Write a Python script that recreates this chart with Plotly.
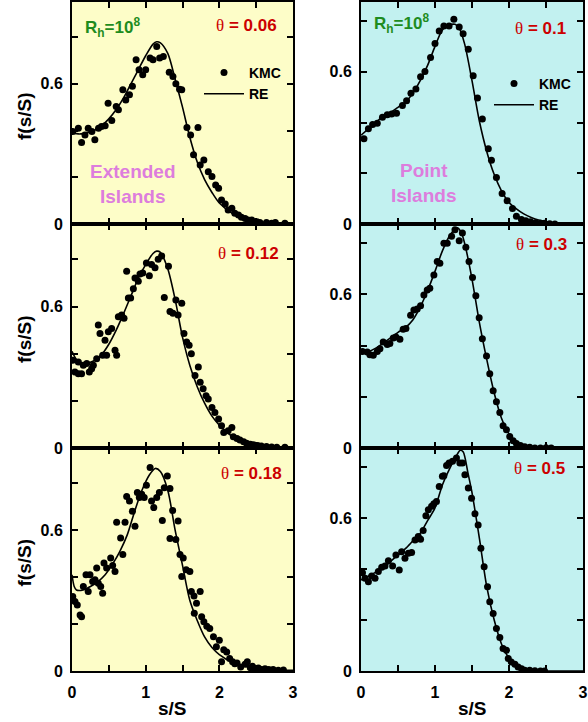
import plotly.graph_objects as go

W, H = 588, 722

# ---------------- data ----------------
# Extended islands, theta = 0.06
kmc_x_006 = [0.01,0.086,0.13,0.176,0.22,0.27,0.31,0.36,0.40,0.45,0.49,0.54,0.60,0.63,0.69,0.73,0.78,0.82,0.87,0.91,0.96,1.00,1.06,1.10,1.15,1.19,1.24,1.32,1.37,1.41,1.46,1.49,1.56,1.61,1.65,1.71,1.74,1.79,1.85,1.90,1.95,1.99,2.03,2.08,2.12,2.17,2.21,2.26,2.30,2.35,2.39,2.44,2.51,2.55,2.64,2.71,2.76,2.89]
kmc_y_006 = [0.396,0.41,0.349,0.381,0.41,0.396,0.36,0.41,0.417,0.42,0.517,0.443,0.503,0.489,0.574,0.531,0.553,0.589,0.703,0.66,0.639,0.66,0.71,0.703,0.76,0.71,0.717,0.649,0.631,0.60,0.577,0.574,0.413,0.381,0.296,0.413,0.253,0.274,0.224,0.203,0.167,0.153,0.103,0.086,0.06,0.067,0.046,0.039,0.029,0.024,0.017,0.017,0.01,0.006,0.006,0.003,0.006,0.003]
re_x_006 = [0,0.1,0.2,0.3,0.4,0.5,0.6,0.7,0.8,0.9,1.0,1.1,1.15,1.2,1.3,1.4,1.5,1.6,1.7,1.8,1.9,2.0,2.2,2.4,2.6,2.8,3.0]
re_y_006 = [0.39,0.385,0.39,0.40,0.42,0.45,0.49,0.54,0.60,0.66,0.72,0.77,0.78,0.775,0.73,0.62,0.50,0.37,0.265,0.19,0.135,0.09,0.04,0.017,0.007,0.003,0.001]

# Extended islands, theta = 0.12
kmc_x_012 = [0.01,0.04,0.086,0.086,0.13,0.154,0.20,0.235,0.267,0.29,0.335,0.357,0.38,0.416,0.448,0.47,0.493,0.538,0.584,0.606,0.629,0.674,0.706,0.742,0.765,0.796,0.833,0.855,0.90,0.923,0.96,1.01,1.05,1.08,1.127,1.17,1.217,1.253,1.31,1.33,1.37,1.41,1.44,1.49,1.52,1.556,1.59,1.62,1.67,1.715,1.74,1.78,1.82,1.85,1.90,1.94,1.99,2.03,2.06,2.12,2.17,2.19,2.24,2.28,2.33,2.37,2.42,2.46,2.52,2.57,2.64,2.71,2.78,2.89]
kmc_y_012 = [0.372,0.322,0.365,0.315,0.315,0.351,0.358,0.322,0.336,0.351,0.379,0.522,0.486,0.393,0.457,0.393,0.493,0.507,0.415,0.393,0.557,0.564,0.55,0.75,0.636,0.636,0.675,0.721,0.707,0.738,0.742,0.785,0.731,0.778,0.764,0.80,0.814,0.638,0.771,0.579,0.571,0.628,0.564,0.614,0.486,0.45,0.436,0.40,0.308,0.343,0.279,0.251,0.222,0.208,0.172,0.151,0.123,0.094,0.066,0.073,0.087,0.048,0.04,0.034,0.026,0.02,0.016,0.014,0.011,0.009,0.006,0.004,0.003,0.003]
re_x_012 = [0,0.05,0.1,0.2,0.3,0.4,0.5,0.6,0.7,0.8,0.9,1.0,1.1,1.15,1.2,1.3,1.4,1.5,1.6,1.7,1.8,1.9,2.0,2.2,2.4,2.6,2.8,3.0]
re_y_012 = [0.41,0.38,0.365,0.36,0.37,0.395,0.44,0.50,0.57,0.645,0.72,0.778,0.825,0.835,0.83,0.76,0.63,0.47,0.35,0.26,0.19,0.135,0.097,0.044,0.02,0.01,0.004,0.002]

# Extended islands, theta = 0.18
kmc_x_018 = [0.01,0.04,0.072,0.11,0.13,0.154,0.19,0.22,0.244,0.28,0.312,0.335,0.357,0.39,0.416,0.434,0.47,0.525,0.552,0.584,0.606,0.66,0.69,0.72,0.742,0.78,0.82,0.855,0.887,0.914,0.946,0.98,1.01,1.06,1.08,1.11,1.15,1.186,1.226,1.253,1.294,1.33,1.33,1.366,1.41,1.44,1.466,1.49,1.51,1.55,1.60,1.62,1.656,1.66,1.69,1.74,1.76,1.79,1.83,1.87,1.92,1.96,2.0,2.03,2.06,2.10,2.14,2.18,2.21,2.24,2.29,2.35,2.38,2.42,2.45,2.48,2.53,2.57,2.62,2.67,2.73,2.80,2.87]
kmc_y_018 = [0.317,0.296,0.281,0.239,0.231,0.36,0.41,0.339,0.41,0.381,0.389,0.439,0.374,0.36,0.331,0.46,0.439,0.481,0.449,0.424,0.634,0.567,0.496,0.634,0.743,0.724,0.681,0.617,0.76,0.739,0.753,0.739,0.791,0.867,0.724,0.696,0.739,0.76,0.641,0.781,0.831,0.777,0.564,0.684,0.56,0.639,0.496,0.403,0.481,0.431,0.424,0.339,0.32,0.246,0.289,0.339,0.231,0.21,0.191,0.181,0.146,0.103,0.131,0.039,0.091,0.081,0.053,0.039,0.031,0.034,0.017,0.029,0.039,0.014,0.02,0.01,0.013,0.006,0.01,0.006,0.006,0.003,0.004]
re_x_018 = [0,0.03,0.06,0.15,0.25,0.35,0.45,0.55,0.65,0.75,0.85,0.95,1.05,1.13,1.2,1.3,1.4,1.5,1.6,1.7,1.8,1.9,2.0,2.2,2.4,2.6,2.8,3.0]
re_y_018 = [0.41,0.36,0.345,0.345,0.36,0.38,0.41,0.455,0.51,0.58,0.68,0.77,0.835,0.863,0.85,0.77,0.60,0.45,0.30,0.215,0.145,0.10,0.07,0.033,0.017,0.009,0.004,0.003]

# Point islands, theta = 0.1
kmc_x_01 = [0.04,0.1,0.157,0.22,0.29,0.355,0.414,0.48,0.56,0.616,0.675,0.742,0.805,0.864,0.94,1.0,1.057,1.12,1.19,1.255,1.327,1.38,1.45,1.516,1.574,1.64,1.72,1.763,1.83,1.907,1.975,2.047,2.1,2.168,2.227,2.29,2.36,2.425,2.48,2.55,2.62]
kmc_y_01 = [0.336,0.375,0.392,0.397,0.421,0.431,0.434,0.437,0.467,0.486,0.515,0.532,0.58,0.601,0.656,0.711,0.761,0.78,0.78,0.807,0.776,0.75,0.689,0.584,0.497,0.414,0.297,0.251,0.183,0.12,0.092,0.061,0.031,0.018,0.013,0.009,0.005,0.003,0.003,0.001,0.0]
re_x_01 = [0,0.1,0.2,0.3,0.4,0.5,0.6,0.7,0.8,0.9,1.0,1.1,1.2,1.27,1.33,1.4,1.5,1.6,1.7,1.8,1.9,2.0,2.1,2.2,2.3,2.4,2.6,2.8,3.0]
re_y_01 = [0.35,0.375,0.40,0.425,0.44,0.46,0.48,0.515,0.565,0.625,0.70,0.765,0.785,0.787,0.77,0.71,0.565,0.405,0.285,0.195,0.13,0.085,0.06,0.04,0.026,0.016,0.005,0.001,0.0]

# Point islands, theta = 0.3
kmc_x_03 = [0.02,0.085,0.12,0.166,0.22,0.256,0.30,0.355,0.39,0.436,0.472,0.526,0.57,0.607,0.67,0.715,0.76,0.805,0.85,0.895,0.93,0.985,1.03,1.066,1.12,1.165,1.224,1.27,1.327,1.37,1.417,1.46,1.507,1.552,1.597,1.64,1.696,1.74,1.786,1.83,1.876,1.92,1.966,2.01,2.056,2.1,2.155,2.213,2.28,2.35,2.425,2.5,2.57]
kmc_y_03 = [0.377,0.375,0.364,0.362,0.377,0.388,0.414,0.404,0.408,0.43,0.434,0.425,0.464,0.467,0.519,0.539,0.543,0.556,0.598,0.617,0.624,0.676,0.729,0.722,0.80,0.80,0.827,0.853,0.81,0.84,0.784,0.729,0.666,0.595,0.509,0.427,0.359,0.29,0.224,0.181,0.139,0.087,0.071,0.045,0.028,0.018,0.01,0.005,0.003,0.0,0.0,0.001,0.0]
re_x_03 = [0,0.1,0.2,0.3,0.4,0.5,0.6,0.7,0.8,0.9,1.0,1.1,1.2,1.3,1.35,1.4,1.5,1.6,1.7,1.8,1.9,2.0,2.1,2.2,2.4,2.6,3.0]
re_y_03 = [0.38,0.377,0.39,0.41,0.43,0.452,0.47,0.50,0.55,0.615,0.69,0.77,0.83,0.86,0.845,0.80,0.66,0.49,0.345,0.215,0.115,0.055,0.022,0.009,0.003,0.001,0.0]

# Point islands, theta = 0.5
kmc_x_05 = [0.02,0.054,0.1,0.144,0.19,0.234,0.28,0.324,0.37,0.427,0.472,0.517,0.549,0.594,0.64,0.684,0.73,0.774,0.805,0.84,0.877,0.91,0.954,0.985,1.02,1.057,1.1,1.12,1.156,1.19,1.237,1.29,1.336,1.372,1.404,1.45,1.494,1.54,1.583,1.62,1.664,1.71,1.74,1.786,1.83,1.876,1.92,1.966,1.99,2.03,2.08,2.123,2.17,2.213,2.28,2.35,2.425,2.48]
kmc_y_05 = [0.386,0.364,0.35,0.373,0.364,0.39,0.407,0.412,0.433,0.412,0.455,0.396,0.468,0.442,0.462,0.465,0.514,0.528,0.517,0.551,0.609,0.633,0.646,0.656,0.665,0.724,0.764,0.766,0.806,0.816,0.823,0.836,0.816,0.816,0.77,0.718,0.678,0.617,0.573,0.482,0.409,0.331,0.272,0.226,0.167,0.131,0.088,0.081,0.049,0.035,0.026,0.016,0.009,0.003,0.003,0.001,0.0,0.0]
re_x_05 = [0,0.1,0.2,0.3,0.4,0.5,0.6,0.7,0.8,0.9,1.0,1.1,1.2,1.3,1.34,1.38,1.45,1.5,1.6,1.7,1.8,1.9,2.0,2.1,2.2,2.4,2.6,3.0]
re_y_05 = [0.357,0.372,0.388,0.405,0.43,0.455,0.48,0.51,0.54,0.59,0.64,0.73,0.795,0.85,0.866,0.86,0.77,0.70,0.52,0.33,0.20,0.105,0.05,0.02,0.008,0.001,0.0,0.0]

theta_labels = ["0.06", "0.12", "0.18", "0.1", "0.3", "0.5"]
x_tickvals = [0, 0.5, 1, 1.5, 2, 2.5, 3]
x_ticktext = ["0", "", "1", "", "2", "", "3"]
y_tickvals = [0, 0.2, 0.4, 0.6, 0.8]
y_ticktext = ["0", "", "", "0.6", ""]

panels = [
    (kmc_x_006, kmc_y_006, re_x_006, re_y_006),
    (kmc_x_012, kmc_y_012, re_x_012, re_y_012),
    (kmc_x_018, kmc_y_018, re_x_018, re_y_018),
    (kmc_x_01, kmc_y_01, re_x_01, re_y_01),
    (kmc_x_03, kmc_y_03, re_x_03, re_y_03),
    (kmc_x_05, kmc_y_05, re_x_05, re_y_05),
]

# ---------------- layout geometry (pixels) ----------------
col_px = [(72, 293), (361, 583)]
row_px = [(2, 224), (224, 448), (448, 671)]
y_max = [0.95, 0.875]
bg = ["#fdfdc8", "#c2f1f0"]

FONT = "Liberation Sans, Arial, Helvetica, sans-serif"
fig = go.Figure()
layout = dict(template="none", width=W, height=H, margin=dict(l=0, r=0, t=0, b=0, pad=0),
              paper_bgcolor="white", plot_bgcolor="rgba(0,0,0,0)",
              showlegend=True, font=dict(family=FONT, color="black"))
shapes = []
annotations = []

for i, (kx, ky, rx, ry) in enumerate(panels):
    col, row = divmod(i, 3)
    n = i + 1
    xa = "x" if n == 1 else f"x{n}"
    ya = "y" if n == 1 else f"y{n}"
    legend = None
    if i == 0:
        legend = "legend"
    elif i == 3:
        legend = "legend2"
    show = legend is not None
    fig.add_trace(go.Scatter(x=kx, y=ky, mode="markers", name="KMC",
                             marker=dict(color="black", size=7),
                             xaxis=xa, yaxis=ya, showlegend=show,
                             legend=legend or "legend"))
    fig.add_trace(go.Scatter(x=rx, y=ry, mode="lines", name="RE",
                             line=dict(color="black", width=1.6, shape="spline", smoothing=0.8),
                             xaxis=xa, yaxis=ya, showlegend=show,
                             legend=legend or "legend"))
    x0, x1 = col_px[col]
    t, b = row_px[row]
    axis_common = dict(showline=True, linewidth=2, linecolor="black", mirror="allticks",
                       ticks="inside", ticklen=6, tickwidth=1.5, tickcolor="black",
                       showgrid=False, zeroline=False, automargin=False,
                       ticklabeloverflow="allow",
                       tickfont=dict(family=FONT, size=16, color="black", weight="bold"))
    layout["xaxis" if n == 1 else f"xaxis{n}"] = dict(
        axis_common, domain=[x0 / W, x1 / W], range=[0, 3], anchor=ya,
        tickmode="array", tickvals=x_tickvals, ticktext=x_ticktext,
        showticklabels=(row == 2), ticklabelstandoff=6)
    layout["yaxis" if n == 1 else f"yaxis{n}"] = dict(
        axis_common, domain=[1 - b / H, 1 - t / H], range=[0, y_max[col]], anchor=xa,
        tickmode="array", tickvals=y_tickvals, ticktext=y_ticktext, ticklabelstandoff=4)
    shapes.append(dict(type="rect", xref=f"{xa} domain", yref=f"{ya} domain",
                       x0=0, x1=1, y0=0, y1=1, fillcolor=bg[col], line_width=0, layer="below"))

# theta labels (pixel positions of right edge / vertical centre)
theta_pos = [(279, 26), (281, 253), (284, 473), (568, 29), (569, 245), (567, 468)]
for lab, (px, py) in zip(theta_labels, theta_pos):
    annotations.append(dict(
        text=f"<span style='font-family:Liberation Serif'>θ</span><b> = {lab}</b>",
        x=px / W, y=1 - py / H, xref="paper", yref="paper", xanchor="right", yanchor="middle",
        showarrow=False, font=dict(family=FONT, size=17, color="#cc0000")))

for px, py in [(83, 28), (372, 23)]:
    annotations.append(dict(
        text="<b>R<sub>h</sub>=10<sup>8</sup></b>", x=px / W, y=1 - py / H,
        xref="paper", yref="paper", xanchor="left", yanchor="middle", showarrow=False,
        font=dict(family=FONT, size=17, color="#1e8c1e")))

for txt, px, py in [("Extended<br>Islands", 133, 184), ("Point<br>Islands", 423, 183)]:
    annotations.append(dict(
        text=f"<b>{txt}</b>", x=px / W, y=1 - py / H, xref="paper", yref="paper",
        xanchor="center", yanchor="middle", showarrow=False,
        font=dict(family=FONT, size=19, color="#dd7ddd")))

for r, (t, b) in enumerate(row_px):
    annotations.append(dict(
        text="<b>f(s/S)</b>", x=24 / W, y=1 - ((t + b) / 2 + 3) / H, xref="paper", yref="paper",
        xanchor="center", yanchor="middle", textangle=-90, showarrow=False,
        font=dict(family=FONT, size=19, color="black")))

for px in [172, 473]:
    annotations.append(dict(
        text="<b>s/S</b>", x=px / W, y=1 - 708 / H, xref="paper", yref="paper",
        xanchor="center", yanchor="middle", showarrow=False,
        font=dict(family=FONT, size=19, color="black")))

leg_common = dict(bgcolor="rgba(0,0,0,0)", borderwidth=0, xanchor="left", yanchor="top",
                  font=dict(family=FONT, size=14, color="black", weight="bold"),
                  itemwidth=40, tracegroupgap=0)
layout["legend"] = dict(leg_common, x=199 / W, y=1 - 57 / H)
layout["legend2"] = dict(leg_common, x=489 / W, y=1 - 68 / H)
layout["shapes"] = shapes
layout["annotations"] = annotations
fig.update_layout(**layout)
fig.write_html("out.html", config={"displayModeBar": False},
               post_script="document.body.style.margin='0px';document.body.style.overflow='hidden';")
